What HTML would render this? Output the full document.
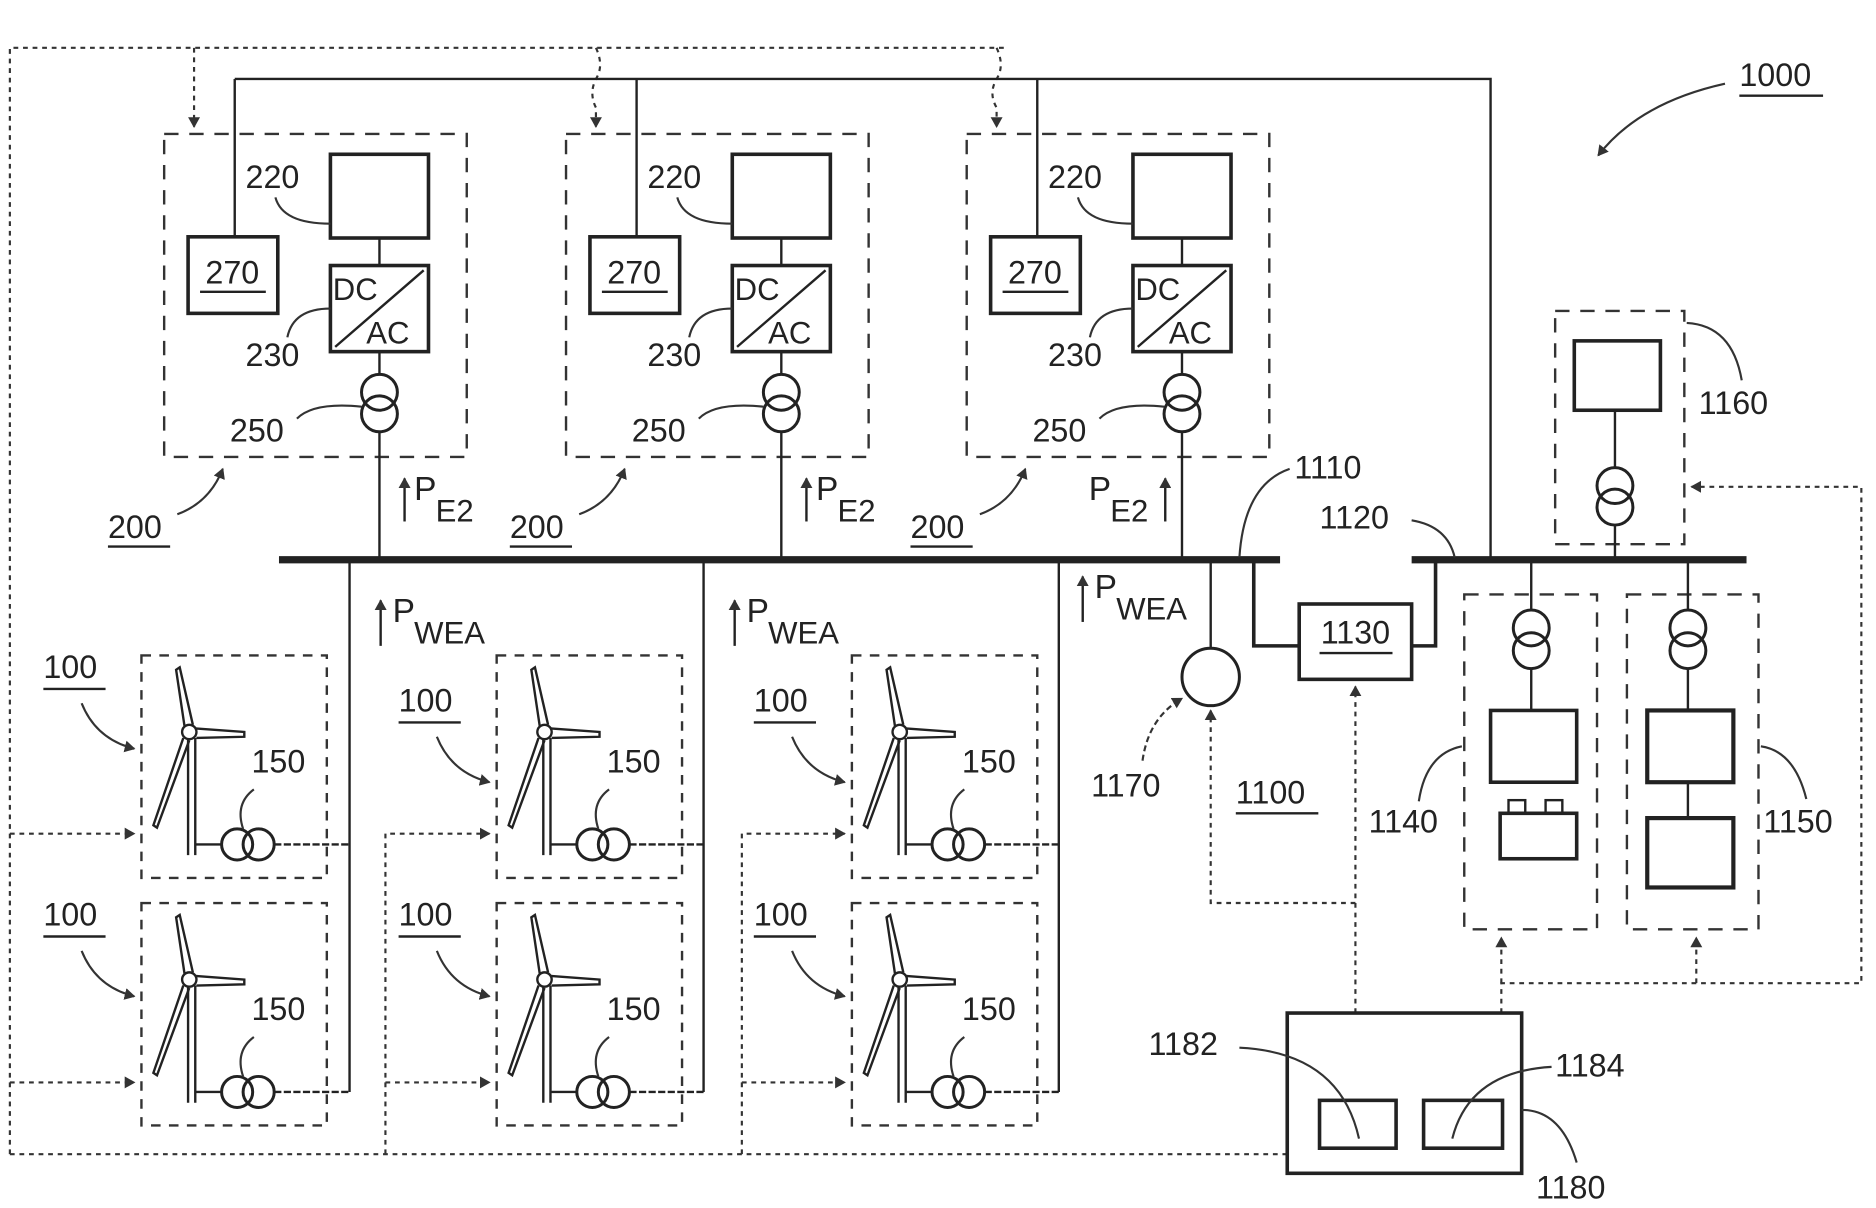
<!DOCTYPE html>
<html><head><meta charset="utf-8"><style>
html,body{margin:0;padding:0;background:#fff;}
svg{display:block;}
text{font-family:"Liberation Sans",sans-serif;fill:#222;}
</style></head><body>
<svg width="1876" height="1208" viewBox="0 0 1568 1010" xmlns="http://www.w3.org/2000/svg">
<defs>
<marker id="ar" markerWidth="10" markerHeight="10" refX="8" refY="5" orient="auto" markerUnits="userSpaceOnUse">
<path d="M0,0 L9,5 L0,10 Z" fill="#333"/></marker>
<g id="mod200">
 <rect x="137" y="112" width="253" height="270" fill="none" stroke="#333" stroke-width="2" stroke-dasharray="12,9"/>
 <rect x="276" y="129" width="82" height="70" fill="none" stroke="#222" stroke-width="3"/>
 <rect x="157" y="198" width="75" height="64" fill="none" stroke="#222" stroke-width="3"/>
 <text x="194" y="237" font-size="27" text-anchor="middle">270</text>
 <line x1="167" y1="244" x2="222" y2="244" stroke="#222" stroke-width="2"/>
 <rect x="276" y="222" width="82" height="72" fill="none" stroke="#222" stroke-width="3"/>
 <line x1="280" y1="290" x2="354" y2="226" stroke="#222" stroke-width="2"/>
 <text x="278" y="251" font-size="26">DC</text>
 <text x="306" y="287" font-size="26">AC</text>
 <line x1="317" y1="199" x2="317" y2="222" stroke="#222" stroke-width="2"/>
 <line x1="317" y1="294" x2="317" y2="313" stroke="#222" stroke-width="2"/>
 <circle cx="317" cy="328" r="15" fill="none" stroke="#222" stroke-width="2.5"/>
 <circle cx="317" cy="346" r="15" fill="none" stroke="#222" stroke-width="2.5"/>
 <line x1="317" y1="361" x2="317" y2="468" stroke="#222" stroke-width="2"/>
 <line x1="196" y1="66" x2="196" y2="198" stroke="#222" stroke-width="2"/>
 <text x="205" y="157" font-size="27">220</text>
 <path d="M230,165 Q236,187 276,187" fill="none" stroke="#333" stroke-width="1.8"/>
 <text x="205" y="306" font-size="27">230</text>
 <path d="M240,282 Q245,258 276,258" fill="none" stroke="#333" stroke-width="1.8"/>
 <text x="192" y="369" font-size="27">250</text>
 <path d="M248,350 Q262,336 302,340" fill="none" stroke="#333" stroke-width="1.8"/>
 <text x="90" y="450" font-size="27">200</text>
 <line x1="90" y1="457" x2="142" y2="457" stroke="#222" stroke-width="2"/>
 <path d="M148,430 Q175,420 186,392" fill="none" stroke="#333" stroke-width="1.8" marker-end="url(#ar)"/>
</g>
<g id="turb">
 <rect x="118" y="548" width="155" height="186" fill="none" stroke="#333" stroke-width="2" stroke-dasharray="8,7"/>
 <line x1="157" y1="617" x2="157" y2="715" stroke="#222" stroke-width="2"/>
 <line x1="163" y1="617" x2="163" y2="715" stroke="#222" stroke-width="2"/>
 <circle cx="158" cy="612" r="6" fill="none" stroke="#222" stroke-width="2"/>
 <path d="M154,607 L147,560 L150,558 L161,606" fill="none" stroke="#222" stroke-width="2"/>
 <path d="M153,617 L128,690 L131,692 L158,619" fill="none" stroke="#222" stroke-width="2"/>
 <path d="M163,609 L204,612 L204,616 L164,617" fill="none" stroke="#222" stroke-width="2"/>
 <line x1="163" y1="706" x2="185" y2="706" stroke="#222" stroke-width="2"/>
 <circle cx="198" cy="706" r="13" fill="none" stroke="#222" stroke-width="2.5"/>
 <circle cx="216" cy="706" r="13" fill="none" stroke="#222" stroke-width="2.5"/>
 <line x1="229" y1="706" x2="292" y2="706" stroke="#222" stroke-width="2" stroke-dasharray="6,2"/>
 <text x="210" y="646" font-size="27">150</text>
 <path d="M212,660 Q196,672 203,693" fill="none" stroke="#333" stroke-width="1.8"/>
</g>
<g id="lbl100">
 <text x="36" y="567" font-size="27">100</text>
 <line x1="36" y1="576" x2="88" y2="576" stroke="#222" stroke-width="2"/>
 <path d="M68,588 Q80,618 112,626" fill="none" stroke="#333" stroke-width="1.8" marker-end="url(#ar)"/>
</g>
</defs>

<!-- outer dotted control -->
<path d="M8,965 L8,40 L840,40" fill="none" stroke="#333" stroke-width="1.8" stroke-dasharray="4,4"/>
<path d="M8,965 L1076,965" fill="none" stroke="#333" stroke-width="1.8" stroke-dasharray="4,4"/>
<g fill="none" stroke="#333" stroke-width="1.8" stroke-dasharray="4,4">
<path d="M162,40 L162,106" marker-end="url(#ar)"/>
<path d="M498,40 Q505,55 498,66 Q492,78 498,90 L498,106" marker-end="url(#ar)"/>
<path d="M833,40 Q840,55 833,66 Q826,78 833,90 L833,106" marker-end="url(#ar)"/>
</g>
<!-- top solid line -->
<path d="M196,66 L1246,66 L1246,468" fill="none" stroke="#222" stroke-width="2"/>

<use href="#mod200"/>
<use href="#mod200" transform="translate(336,0)"/>
<use href="#mod200" transform="translate(671,0)"/>

<!-- P_E2 labels -->
<g font-size="28">
<line x1="338" y1="436" x2="338" y2="400" stroke="#222" stroke-width="2" marker-end="url(#ar)"/>
<text x="346" y="418">P</text><text x="364" y="436" font-size="26">E2</text>
<line x1="674" y1="436" x2="674" y2="400" stroke="#222" stroke-width="2" marker-end="url(#ar)"/>
<text x="682" y="418">P</text><text x="700" y="436" font-size="26">E2</text>
<text x="910" y="418">P</text><text x="928" y="436" font-size="26">E2</text>
<line x1="974" y1="436" x2="974" y2="400" stroke="#222" stroke-width="2" marker-end="url(#ar)"/>
</g>

<!-- main bus -->
<line x1="233" y1="468" x2="1070" y2="468" stroke="#222" stroke-width="6"/>
<line x1="1180" y1="468" x2="1460" y2="468" stroke="#222" stroke-width="6"/>

<!-- feeders -->
<line x1="292" y1="468" x2="292" y2="913" stroke="#222" stroke-width="2"/>
<line x1="588" y1="468" x2="588" y2="913" stroke="#222" stroke-width="2"/>
<line x1="885" y1="468" x2="885" y2="913" stroke="#222" stroke-width="2"/>

<!-- turbines -->
<use href="#turb"/>
<use href="#turb" transform="translate(0,207)"/>
<use href="#turb" transform="translate(297,0)"/>
<use href="#turb" transform="translate(297,207)"/>
<use href="#turb" transform="translate(594,0)"/>
<use href="#turb" transform="translate(594,207)"/>
<use href="#lbl100"/>
<use href="#lbl100" transform="translate(0,207)"/>
<use href="#lbl100" transform="translate(297,28)"/>
<use href="#lbl100" transform="translate(297,207)"/>
<use href="#lbl100" transform="translate(594,28)"/>
<use href="#lbl100" transform="translate(594,207)"/>

<!-- P_WEA -->
<g font-size="28">
<line x1="318" y1="540" x2="318" y2="502" stroke="#222" stroke-width="2" marker-end="url(#ar)"/>
<text x="328" y="520">P</text><text x="346" y="538" font-size="26">WEA</text>
<line x1="614" y1="540" x2="614" y2="502" stroke="#222" stroke-width="2" marker-end="url(#ar)"/>
<text x="624" y="520">P</text><text x="642" y="538" font-size="26">WEA</text>
<line x1="905" y1="520" x2="905" y2="482" stroke="#222" stroke-width="2" marker-end="url(#ar)"/>
<text x="915" y="500">P</text><text x="933" y="518" font-size="26">WEA</text>
</g>

<!-- dotted control to turbines -->
<g fill="none" stroke="#333" stroke-width="1.8" stroke-dasharray="4,4">
<path d="M8,697 L112,697" marker-end="url(#ar)"/>
<path d="M8,905 L112,905" marker-end="url(#ar)"/>
<path d="M322,965 L322,697 L409,697" marker-end="url(#ar)"/>
<path d="M322,905 L409,905" marker-end="url(#ar)"/>
<path d="M620,965 L620,697 L706,697" marker-end="url(#ar)"/>
<path d="M620,905 L706,905" marker-end="url(#ar)"/>
</g>

<!-- 1110/1120 labels -->
<text x="1082" y="400" font-size="27">1110</text>
<path d="M1078,392 Q1040,405 1036,466" fill="none" stroke="#333" stroke-width="1.8"/>
<text x="1103" y="442" font-size="27">1120</text>
<path d="M1180,435 Q1210,440 1216,466" fill="none" stroke="#333" stroke-width="1.8"/>

<!-- 1130 -->
<path d="M1048,468 L1048,540 L1086,540" fill="none" stroke="#222" stroke-width="3"/>
<path d="M1180,540 L1200,540 L1200,468" fill="none" stroke="#222" stroke-width="3"/>
<rect x="1086" y="505" width="94" height="63" fill="none" stroke="#222" stroke-width="3"/>
<text x="1133" y="538" font-size="27" text-anchor="middle">1130</text>
<line x1="1103" y1="546" x2="1164" y2="546" stroke="#222" stroke-width="2"/>

<!-- 1170 -->
<line x1="1012" y1="468" x2="1012" y2="542" stroke="#222" stroke-width="2"/>
<circle cx="1012" cy="566" r="24" fill="none" stroke="#222" stroke-width="2.5"/>
<text x="912" y="666" font-size="27">1170</text>
<path d="M955,636 Q960,600 988,584" fill="none" stroke="#333" stroke-width="1.8" stroke-dasharray="5,3" marker-end="url(#ar)"/>
<text x="1033" y="672" font-size="27">1100</text>
<line x1="1033" y1="680" x2="1102" y2="680" stroke="#222" stroke-width="2"/>

<!-- dotted from controller -->
<g fill="none" stroke="#333" stroke-width="1.8" stroke-dasharray="4,4">
<path d="M1133,847 L1133,574" marker-end="url(#ar)"/>
<path d="M1133,755 L1012,755 L1012,594" marker-end="url(#ar)"/>
<path d="M1255,847 L1255,822 L1556,822 L1556,407 L1414,407" marker-end="url(#ar)"/>
<path d="M1255,822 L1255,784" marker-end="url(#ar)"/>
<path d="M1418,822 L1418,784" marker-end="url(#ar)"/>
</g>

<!-- 1140 -->
<rect x="1224" y="497" width="111" height="280" fill="none" stroke="#333" stroke-width="2" stroke-dasharray="12,9"/>
<line x1="1280" y1="468" x2="1280" y2="510" stroke="#222" stroke-width="2"/>
<circle cx="1280" cy="525" r="15" fill="none" stroke="#222" stroke-width="2.5"/>
<circle cx="1280" cy="544" r="15" fill="none" stroke="#222" stroke-width="2.5"/>
<line x1="1280" y1="559" x2="1280" y2="594" stroke="#222" stroke-width="2"/>
<rect x="1246" y="594" width="72" height="60" fill="none" stroke="#222" stroke-width="3"/>
<rect x="1254" y="680" width="64" height="38" fill="none" stroke="#222" stroke-width="3"/>
<rect x="1261" y="669" width="14" height="11" fill="none" stroke="#222" stroke-width="2"/>
<rect x="1292" y="669" width="14" height="11" fill="none" stroke="#222" stroke-width="2"/>
<text x="1144" y="696" font-size="27">1140</text>
<path d="M1186,670 Q1192,630 1222,624" fill="none" stroke="#333" stroke-width="1.8"/>

<!-- 1150 -->
<rect x="1360" y="497" width="110" height="280" fill="none" stroke="#333" stroke-width="2" stroke-dasharray="12,9"/>
<line x1="1411" y1="468" x2="1411" y2="510" stroke="#222" stroke-width="2"/>
<circle cx="1411" cy="525" r="15" fill="none" stroke="#222" stroke-width="2.5"/>
<circle cx="1411" cy="544" r="15" fill="none" stroke="#222" stroke-width="2.5"/>
<line x1="1411" y1="559" x2="1411" y2="594" stroke="#222" stroke-width="2"/>
<rect x="1377" y="594" width="72" height="60" fill="none" stroke="#222" stroke-width="3.5"/>
<line x1="1411" y1="654" x2="1411" y2="684" stroke="#222" stroke-width="2"/>
<rect x="1377" y="684" width="72" height="58" fill="none" stroke="#222" stroke-width="3.5"/>
<text x="1474" y="696" font-size="27">1150</text>
<path d="M1472,624 Q1500,628 1510,668" fill="none" stroke="#333" stroke-width="1.8"/>

<!-- 1160 -->
<rect x="1300" y="260" width="108" height="195" fill="none" stroke="#333" stroke-width="2" stroke-dasharray="12,9"/>
<rect x="1316" y="285" width="72" height="58" fill="none" stroke="#222" stroke-width="3"/>
<line x1="1350" y1="343" x2="1350" y2="392" stroke="#222" stroke-width="2"/>
<circle cx="1350" cy="406" r="15" fill="none" stroke="#222" stroke-width="2.5"/>
<circle cx="1350" cy="424" r="15" fill="none" stroke="#222" stroke-width="2.5"/>
<line x1="1350" y1="439" x2="1350" y2="468" stroke="#222" stroke-width="2"/>
<text x="1420" y="346" font-size="27">1160</text>
<path d="M1410,270 Q1448,272 1456,318" fill="none" stroke="#333" stroke-width="1.8"/>

<!-- 1180 controller -->
<rect x="1076" y="847" width="196" height="134" fill="none" stroke="#222" stroke-width="3"/>
<rect x="1103" y="920" width="64" height="40" fill="none" stroke="#222" stroke-width="3"/>
<rect x="1190" y="920" width="66" height="40" fill="none" stroke="#222" stroke-width="3"/>
<text x="960" y="882" font-size="27">1182</text>
<path d="M1036,876 Q1120,880 1136,952" fill="none" stroke="#333" stroke-width="1.8"/>
<text x="1300" y="900" font-size="27">1184</text>
<path d="M1297,892 Q1228,896 1214,952" fill="none" stroke="#333" stroke-width="1.8"/>
<text x="1284" y="1002" font-size="27">1180</text>
<path d="M1272,928 Q1305,928 1318,972" fill="none" stroke="#333" stroke-width="1.8"/>

<!-- 1000 -->
<text x="1454" y="72" font-size="27">1000</text>
<line x1="1454" y1="80" x2="1524" y2="80" stroke="#222" stroke-width="2"/>
<path d="M1442,70 Q1370,86 1336,130" fill="none" stroke="#333" stroke-width="1.8" marker-end="url(#ar)"/>
</svg>
</body></html>
